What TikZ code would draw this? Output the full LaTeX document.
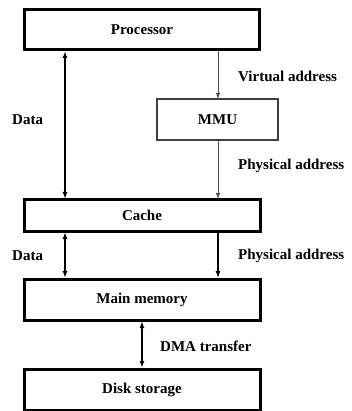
\documentclass[tikz,border=0pt]{standalone}
\usepackage{fontspec}
\setmainfont{Liberation Serif}
\usetikzlibrary{arrows.meta}
\begin{document}
\begin{tikzpicture}[x=1pt,y=-1pt,
  txt/.style={font=\fontsize{15}{17}\selectfont\bfseries},
  blk/.style={txt,draw=black,line width=3pt,inner sep=0pt},
  mmubox/.style={txt,draw=black!75,line width=1.5pt,inner sep=0pt},
  lbl/.style={txt,anchor=west,inner sep=0pt},
  bus/.style={line width=1.7pt,{Latex[length=7pt,width=5pt]}-{Latex[length=7pt,width=5pt]}},
  addr/.style={line width=0.9pt,draw=black!70,-{Latex[length=6pt,width=4.5pt]}},
  paddr/.style={line width=1.3pt,-{Latex[length=7pt,width=5pt]}}]
\useasboundingbox (0,0) rectangle (351,411);

% storage hierarchy blocks
\node[blk,minimum width=235pt,minimum height=40pt] (proc) at (142,29.5) {Processor};
\node[mmubox,minimum width=121pt,minimum height=41pt] (mmu) at (217.5,119.5) {MMU};
\node[blk,minimum width=236pt,minimum height=31pt] (cache) at (142,215.5) {Cache};
\node[blk,minimum width=236pt,minimum height=41pt] (mem) at (142,299.5) {Main memory};
\node[blk,minimum width=236pt,minimum height=41pt] (disk) at (142,389.5) {Disk storage};

% anchor points for the vertical connectors
\coordinate (pd) at (65,51);   \coordinate (cd) at (65,199);
\coordinate (pa) at (218,51);  \coordinate (ma) at (218,99);
\coordinate (mb) at (218,140); \coordinate (ca) at (218,199);
\coordinate (cd2) at (65,232); \coordinate (md) at (65,278);
\coordinate (cb) at (218,232); \coordinate (mc) at (218,278);
\coordinate (mm) at (142,321); \coordinate (dk) at (142,368);

\draw[bus] (pd) -- (cd);
\draw[addr] (pa) -- (ma);
\draw[addr] (mb) -- (ca);
\draw[bus] (cd2) -- (md);
\draw[paddr] (cb) -- (mc);
\draw[bus] (mm) -- (dk);

% labels
\node[lbl] (lva) at (238,76) {Virtual address};
\node[lbl] (ld1) at (12,120) {Data};
\node[lbl] (lpa1) at (238,166) {Physical address};
\node[lbl] (ld2) at (12,256) {Data};
\node[lbl] (lpa2) at (238,256) {Physical address};
\node[lbl] (ldma) at (160,346) {DMA transfer};
\end{tikzpicture}
\end{document}
